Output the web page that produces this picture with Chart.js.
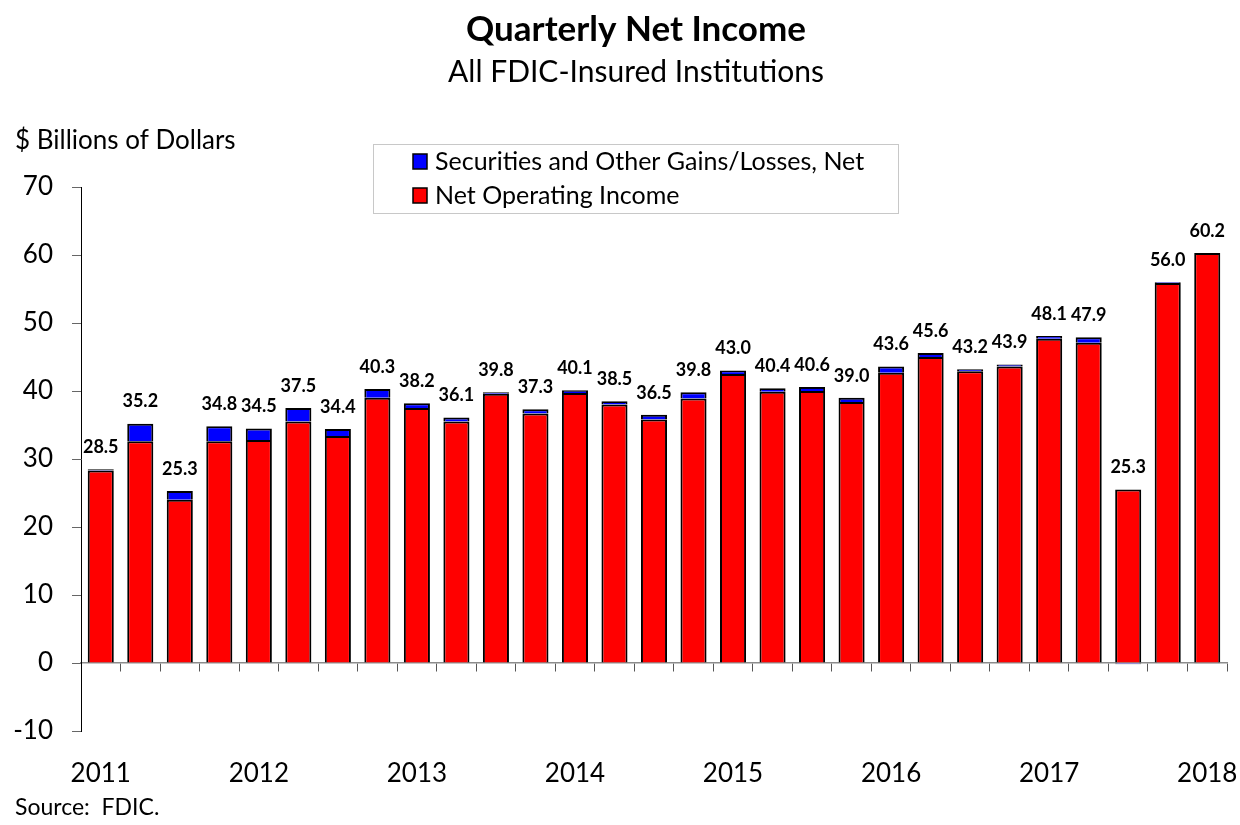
<!DOCTYPE html>
<html>
<head>
<meta charset="utf-8">
<script src="https://cdn.jsdelivr.net/npm/chart.js@4.4.1/dist/chart.umd.min.js"></script>
<style>
  body { margin: 0; background: #fff; }
  #wrap { width: 1240px; height: 825px; position: relative; }
</style>
</head>
<body>
<div id="wrap"><canvas id="myChart"></canvas></div>
<script>
const quarters = [
	'2011 Q1', '2011 Q2', '2011 Q3', '2011 Q4',
	'2012 Q1', '2012 Q2', '2012 Q3', '2012 Q4',
	'2013 Q1', '2013 Q2', '2013 Q3', '2013 Q4',
	'2014 Q1', '2014 Q2', '2014 Q3', '2014 Q4',
	'2015 Q1', '2015 Q2', '2015 Q3', '2015 Q4',
	'2016 Q1', '2016 Q2', '2016 Q3', '2016 Q4',
	'2017 Q1', '2017 Q2', '2017 Q3', '2017 Q4',
	'2018 Q1'
];

// $ billions
const netOperating = [
	28.3, 32.6, 24.0, 32.6, 32.8, 35.5, 33.4, 39.0,
	37.5, 35.5, 39.6, 36.7, 39.7, 38.0, 35.8, 38.9,
	42.5, 39.9, 40.0, 38.4, 42.7, 45.0, 42.9, 43.6,
	47.7, 47.1, 25.5, 55.9, 60.3
];
const securities = [
	0.2, 2.6, 1.3, 2.2, 1.7, 2.0, 1.0, 1.3,
	0.7, 0.6, 0.2, 0.6, 0.4, 0.5, 0.7, 0.9,
	0.5, 0.5, 0.6, 0.6, 0.9, 0.6, 0.3, 0.3,
	0.4, 0.8, -0.2, 0.1, -0.1
];

const FONT = 'Lato, "Open Sans", sans-serif';
Chart.defaults.font.family = FONT;
Chart.defaults.color = '#000';

// titles, legend box, value labels, source note
const extras = {
	id: 'extras',
	afterDatasetsDraw(chart) {
		const ctx = chart.ctx;
		const xs = chart.scales.x, ys = chart.scales.y;
		ctx.save();
		ctx.fillStyle = '#000';
		ctx.textBaseline = 'middle';

		// totals above bars
		ctx.textAlign = 'center';
		ctx.font = 'bold 18px ' + FONT;
		quarters.forEach((q, i) => {
			const top = Math.max(0, netOperating[i]) + Math.max(0, securities[i]);
			const total = netOperating[i] + securities[i];
			ctx.fillText(total.toFixed(1), xs.getPixelForValue(i), ys.getPixelForValue(top) - 22);
		});

		ctx.font = 'bold 35px ' + FONT;
		ctx.fillText('Quarterly Net Income', 636, 30);
		ctx.font = '30px ' + FONT;
		ctx.fillText('All FDIC-Insured Institutions', 636, 72);

		ctx.textAlign = 'left';
		ctx.font = '26px ' + FONT;
		ctx.fillText('$ Billions of Dollars', 15, 141);
		ctx.font = '23px ' + FONT;
		ctx.fillText('Source:  FDIC.', 15, 808);

		// legend
		ctx.fillStyle = '#fff';
		ctx.fillRect(373.5, 144.5, 525, 69);
		ctx.strokeStyle = '#c8c8c8';
		ctx.lineWidth = 1;
		ctx.strokeRect(373.5, 144.5, 525, 69);
		const items = chart.data.datasets.slice().reverse();
		items.forEach((ds, k) => {
			const cy = 161 + k * 34;
			ctx.fillStyle = ds.backgroundColor;
			ctx.fillRect(413, cy - 7, 14, 15);
			ctx.strokeStyle = '#000';
			ctx.lineWidth = 1.5;
			ctx.strokeRect(413, cy - 7, 14, 15);
			ctx.fillStyle = '#000';
			ctx.font = '25px ' + FONT;
			ctx.fillText(ds.label, 435, cy + 1);
		});
		ctx.restore();
	}
};

const ctx = document.getElementById('myChart').getContext('2d');
const myChart = new Chart(ctx, {
	type: 'bar',
	data: {
		labels: quarters,
		datasets: [
			{
				label: 'Net Operating Income',
				data: netOperating,
				backgroundColor: '#ff0000',
				borderColor: '#000',
				borderWidth: 2,
				xAxisID: 'x'
			},
			{
				label: 'Securities and Other Gains/Losses, Net',
				data: securities,
				backgroundColor: '#0000ff',
				borderColor: '#000',
				borderWidth: 2,
				xAxisID: 'x'
			}
		]
	},
	options: {
		responsive: true,
		maintainAspectRatio: false,
		animation: false,
		datasets: { bar: { categoryPercentage: 1, barPercentage: 0.66 } },
		layout: { padding: { top: 187, right: 13, bottom: 24, left: 0 } },
		plugins: {
			legend: { display: false },
			tooltip: { enabled: false }
		},
		scales: {
			x: {
				type: 'category',
				stacked: true,
				position: { y: 0 },
				offset: true,
				grid: { display: true, offset: true, drawOnChartArea: false, drawTicks: true, tickLength: 8, color: '#555', lineWidth: 1 },
				border: { display: true, color: '#8c8c8c', width: 1.5 },
				ticks: { display: false }
			},
			x2: {
				type: 'category',
				position: 'bottom',
				labels: quarters,
				offset: true,
				grid: { display: false },
				border: { display: false },
				ticks: {
					autoSkip: false,
					maxRotation: 0,
					padding: 19,
					font: { size: 26 },
					callback: function(value, index) {
						const q = quarters[index];
						return q.endsWith('Q1') ? q.slice(0, 4) : '';
					}
				},
				afterFit: function(scale) {
					scale.height = 70;
					scale.paddingLeft = 0;
					scale.paddingRight = 0;
				}
			},
			y: {
				stacked: true,
				min: -10,
				max: 70,
				ticks: { stepSize: 10, padding: 19, font: { size: 26 } },
				grid: { display: true, drawOnChartArea: false, drawTicks: true, tickLength: 9, color: '#666' },
				border: { display: true, color: '#000', width: 1 },
				afterFit: function(scale) { scale.width = 81; }
			}
		}
	},
	plugins: [extras]
});
</script>
</body>
</html>
